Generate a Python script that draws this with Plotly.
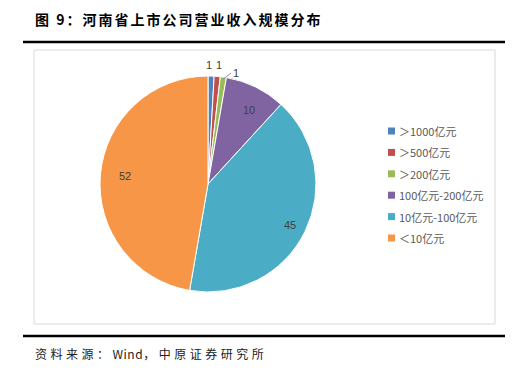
import math
import plotly.graph_objects as go

# Revenue-scale buckets of listed companies in Henan and the company count in each
categories = ["＞1000亿元", "＞500亿元", "＞200亿元", "100亿元-200亿元", "10亿元-100亿元", "＜10亿元"]
counts = [1, 1, 1, 10, 45, 52]
colors = ["#4F81BD", "#C0504D", "#9BBB59", "#8064A2", "#4BACC6", "#F79646"]

title_text = "图 9：河南省上市公司营业收入规模分布"
source_parts = ["资料来源：", "Wind", "，中原证券研究所"]

W, H = 520, 382
CX, CY, R = 208, 184, 108          # pie centre and radius in pixels
CJK = "Noto Sans CJK SC"
LABEL_FONT = dict(family="Liberation Sans, Arial", size=11, color="#404040")


def px(x):
    return x / W


def py(y):
    return 1 - y / H


fig = go.Figure(go.Pie(
    labels=categories,
    values=counts,
    sort=False,
    direction="clockwise",
    rotation=0,
    marker=dict(colors=colors, line=dict(color="white", width=1)),
    textinfo="none",
    hoverinfo="label+value",
    showlegend=False,
    domain=dict(x=[px(CX - R), px(CX + R)], y=[py(CY + R), py(CY - R)]),
))

annotations = []
shapes = []

# value labels positioned from each slice's mid angle
total = sum(counts)
start = 0.0
outside_shift = [-3, 0]
for i, v in enumerate(counts):
    mid = start + v / total * 360 / 2
    start += v / total * 360
    a = math.radians(mid)
    if v >= 5:
        rr = 0.85 * R
        annotations.append(dict(
            x=px(CX + rr * math.sin(a)), y=py(CY - rr * math.cos(a)),
            xref="paper", yref="paper", text=str(v), showarrow=False,
            font=LABEL_FONT,
        ))
    elif i < 2:
        rr = R + 19
        annotations.append(dict(
            x=px(CX + rr * math.sin(a)), y=py(CY - rr * math.cos(a)),
            xref="paper", yref="paper", text=str(v), showarrow=False,
            xshift=outside_shift[i], font=LABEL_FONT,
        ))
    else:
        # small slice with a leader line
        ex, ey = CX + (R - 2) * math.sin(a), CY - (R - 2) * math.cos(a)
        annotations.append(dict(
            x=px(ex), y=py(ey), xref="paper", yref="paper",
            text=str(v), showarrow=True, arrowhead=0, arrowwidth=0.8,
            arrowcolor="#808080", ax=8, ay=-6, xanchor="left",
            font=LABEL_FONT,
        ))

# legend drawn as squares with labels
for i, (lab, c) in enumerate(zip(categories, colors)):
    yc = 131 + i * 21.4
    shapes.append(dict(type="rect", xref="paper", yref="paper",
                       x0=px(388), x1=px(395), y0=py(yc + 3.5), y1=py(yc - 3.5),
                       fillcolor=c, line=dict(width=0)))
    annotations.append(dict(
        x=px(397), y=py(yc), xref="paper", yref="paper", text=lab,
        showarrow=False, xanchor="left", yanchor="middle",
        font=dict(family=CJK, size=11, color="#595959"),
    ))

# chart frame and heavy rules
shapes.append(dict(type="rect", xref="paper", yref="paper",
                   x0=px(34), x1=px(495), y0=py(324), y1=py(50),
                   line=dict(color="#D9D9D9", width=1), fillcolor="rgba(0,0,0,0)",
                   layer="below"))
for yl in (42, 336):
    shapes.append(dict(type="line", xref="paper", yref="paper",
                       x0=px(23), x1=px(505), y0=py(yl), y1=py(yl),
                       line=dict(color="black", width=2.5)))

annotations.append(dict(
    x=px(33), y=py(19), xref="paper", yref="paper",
    text='<span style="letter-spacing:2px"><b>' + title_text + "</b></span>",
    showarrow=False, xanchor="left", yanchor="middle",
    font=dict(family=CJK, size=14, color="black"),
))
cjk_sp = '<span style="letter-spacing:3.5px">{}</span>'
latin_sp = '<span style="letter-spacing:0.5px">{}</span>'
source_html = (cjk_sp.format(source_parts[0]) + latin_sp.format(source_parts[1])
               + cjk_sp.format(source_parts[2]))
annotations.append(dict(
    x=px(33), y=py(353), xref="paper", yref="paper",
    text=source_html,
    showarrow=False, xanchor="left", yanchor="middle",
    font=dict(family=CJK, size=12, color="#222222"),
))

fig.update_layout(
    width=W, height=H,
    margin=dict(l=0, r=0, t=0, b=0),
    paper_bgcolor="white", plot_bgcolor="white",
    annotations=annotations, shapes=shapes,
)

fig.write_html("out.html")
